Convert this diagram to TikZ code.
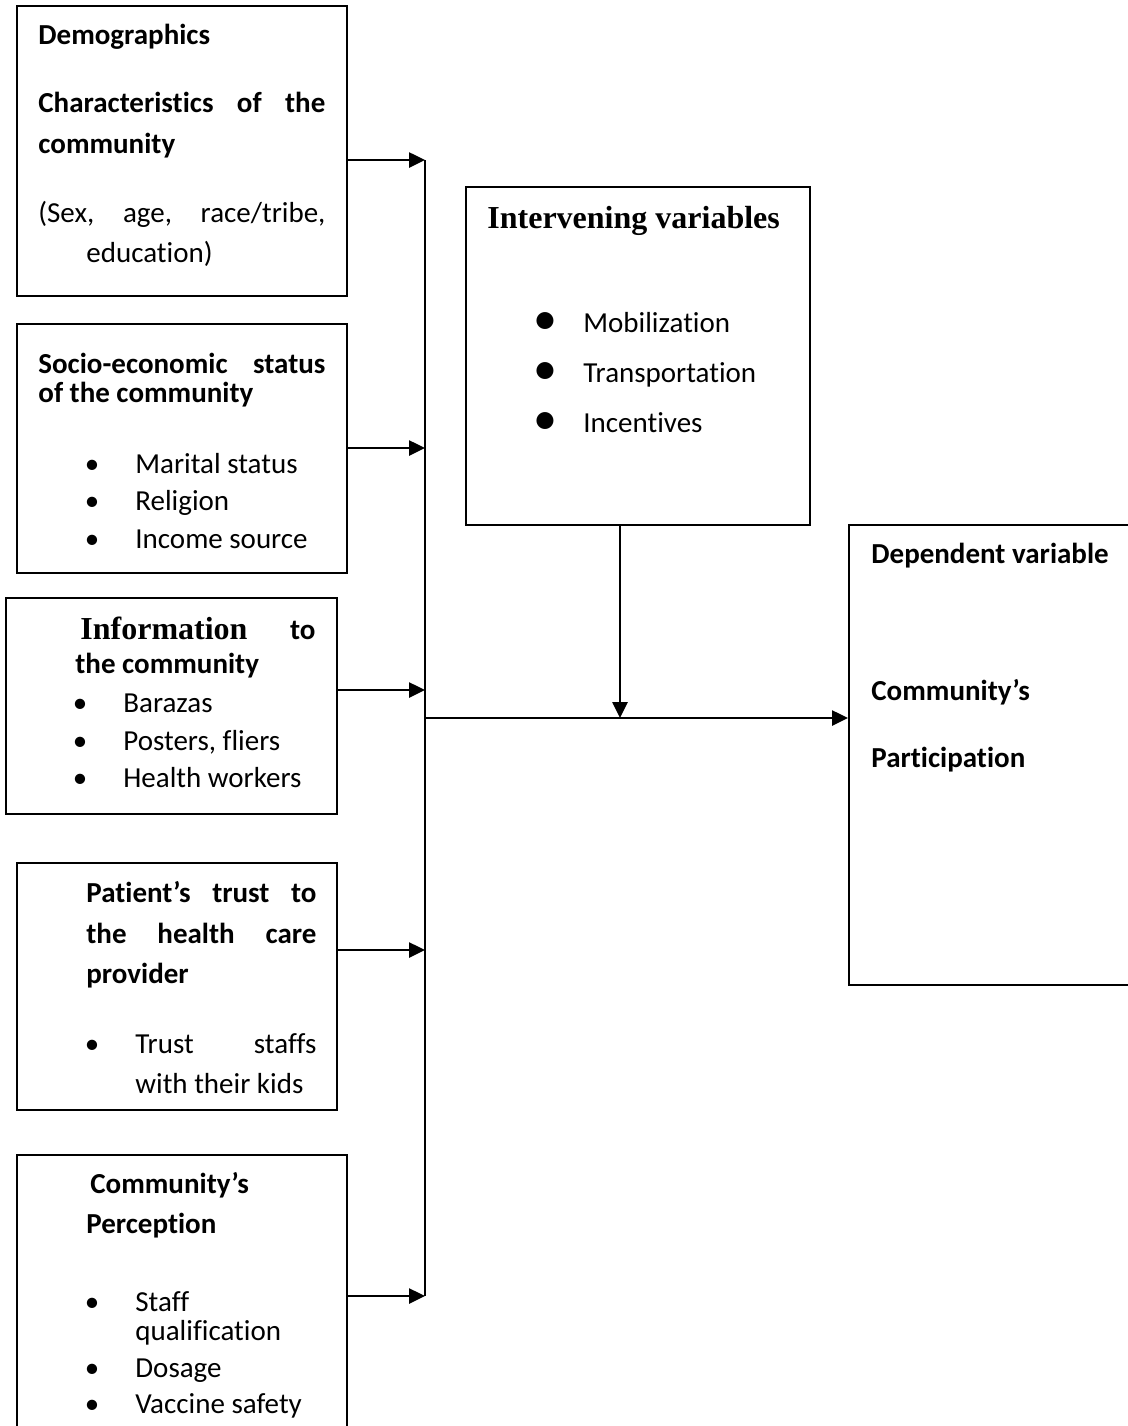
\documentclass[tikz,border=0pt]{standalone}
\usepackage{fontspec}
\setmainfont{Carlito}[Ligatures={NoCommon,NoContextual}]
\newfontfamily\timesf{Liberation Serif}
\usetikzlibrary{arrows.meta}
\begin{document}
\begin{tikzpicture}[x=0.5pt,y=-0.5pt,
  box/.style={draw, line width=1pt, inner sep=0pt, rectangle},
  lbl/.style={anchor=base west, inner sep=0pt, font=\fontsize{14.5}{17}\selectfont},
  blbl/.style={anchor=base west, inner sep=0pt, font=\fontsize{14.5}{17}\selectfont\bfseries},
  tlbl/.style={anchor=base west, inner sep=0pt, font=\fontsize{16}{19}\selectfont\timesf\bfseries},
  bul/.style={anchor=base, inner sep=0pt, font=\fontsize{14.5}{17}\selectfont},
  bigbul/.style={anchor=base, inner sep=0pt, font=\fontsize{24}{26}\selectfont},
  conn/.style={line width=1.3pt, -{Triangle[length=8pt,width=7.5pt]}},
  busline/.style={line width=1.3pt}]
\useasboundingbox (0,0) rectangle (1128,1426);
\clip (0,0) rectangle (1128,1426);

% boxes
\node[box, minimum width=165pt, minimum height=145pt] (b1) at (182,151) {};
\node[box, minimum width=165pt, minimum height=124.5pt] (b2) at (182,448.5) {};
\node[box, minimum width=165.5pt, minimum height=108pt] (b3) at (171.5,706) {};
\node[box, minimum width=160pt, minimum height=123.5pt] (b4) at (177,986.5) {};
\node[box, minimum width=165pt, minimum height=150pt] (b5) at (182,1305) {};
\node[box, minimum width=172pt, minimum height=169pt] (b6) at (638,356) {};
\node[box, minimum width=152pt, minimum height=230pt] (b7) at (1001,755) {};

% box 1
\node[blbl] (t1a) at (38,44) {Demographics};
\node[blbl] (t1b) at (38,112) {\makebox[143.5pt][s]{Characteristics of the}};
\node[blbl] (t1c) at (38,153) {community};
\node[lbl] (t1d) at (38,222) {\makebox[143.5pt][s]{(Sex, age, race/tribe,}};
\node[lbl] (t1e) at (86,262) {education)};

% box 2
\node[blbl] (t2a) at (38,373) {\makebox[143.5pt][s]{Socio-economic status}};
\node[blbl] (t2b) at (38,402) {of the community};
\node[bul] (u2a) at (92,473) {\textbullet};
\node[lbl] (t2c) at (135,473) {Marital status};
\node[bul] (u2b) at (92,510) {\textbullet};
\node[lbl] (t2d) at (135,510) {Religion};
\node[bul] (u2c) at (92,548) {\textbullet};
\node[lbl] (t2e) at (135,548) {Income source};

% box 3
\node[blbl] (t3a) at (80,639) {\makebox[117.5pt][s]{{\fontsize{16}{19}\selectfont\timesf Information} to}};
\node[blbl] (t3b) at (75,673) {the community};
\node[bul] (u3a) at (80,712) {\textbullet};
\node[lbl] (t3c) at (123,712) {Barazas};
\node[bul] (u3b) at (80,750) {\textbullet};
\node[lbl] (t3d) at (123,750) {Posters, fliers};
\node[bul] (u3c) at (80,787) {\textbullet};
\node[lbl] (t3e) at (123,787) {Health workers};

% box 4
\node[blbl] (t4a) at (86,902) {\makebox[115pt][s]{Patient’s trust to}};
\node[blbl] (t4b) at (86,943) {\makebox[115pt][s]{the health care}};
\node[blbl] (t4c) at (86,983) {provider};
\node[bul] (u4a) at (92,1053) {\textbullet};
\node[lbl] (t4d) at (135,1053) {\makebox[90.5pt][s]{Trust staffs}};
\node[lbl] (t4e) at (135,1093) {with their kids};

% box 5
\node[blbl] (t5a) at (90,1193) {Community’s};
\node[blbl] (t5b) at (86,1233) {Perception};
\node[bul] (u5a) at (92,1311) {\textbullet};
\node[lbl] (t5c) at (135,1311) {Staff};
\node[lbl] (t5d) at (135,1340) {qualification};
\node[bul] (u5b) at (92,1377) {\textbullet};
\node[lbl] (t5e) at (135,1377) {Dosage};
\node[bul] (u5c) at (92,1413) {\textbullet};
\node[lbl] (t5f) at (135,1413) {Vaccine safety};

% box 6
\node[tlbl] (t6a) at (487,228) {Intervening variables};
\node[bigbul] (u6a) at (545,334) {\textbullet};
\node[lbl] (t6b) at (583,332) {Mobilization};
\node[bigbul] (u6b) at (545,384) {\textbullet};
\node[lbl] (t6c) at (583,382) {Transportation};
\node[bigbul] (u6c) at (545,434) {\textbullet};
\node[lbl] (t6d) at (583,432) {Incentives};

% box 7
\node[blbl] (t7a) at (871,563) {Dependent variable};
\node[blbl] (t7b) at (871,700) {Community’s};
\node[blbl] (t7c) at (871,767) {Participation};

% connectors
\coordinate (j1) at (425,160);
\coordinate (j2) at (425,448);
\coordinate (j3) at (425,690);
\coordinate (j4) at (425,950);
\coordinate (j5) at (425,1296);
\coordinate (jm) at (425,718);
\coordinate (jv) at (620,718);
\draw[busline] (j1) -- (j5);
\draw[conn] (j1 -| b1.east) -- (j1);
\draw[conn] (j2 -| b2.east) -- (j2);
\draw[conn] (j3 -| b3.east) -- (j3);
\draw[conn] (j4 -| b4.east) -- (j4);
\draw[conn] (j5 -| b5.east) -- (j5);
\draw[conn] (jm) -- (jm -| b7.west);
\draw[conn] (jv |- b6.south) -- (jv);
\end{tikzpicture}
\end{document}
